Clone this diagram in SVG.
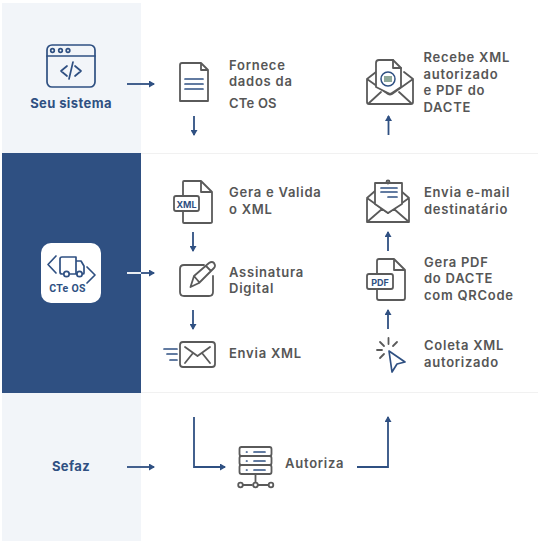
<svg xmlns="http://www.w3.org/2000/svg" width="538" height="541" viewBox="0 0 538 541">
<defs>
<marker id="ah" markerWidth="6" markerHeight="7" refX="5" refY="3.500" orient="auto" markerUnits="userSpaceOnUse"><path d="M0 0L6 3.500L0 7Z" fill="#2f5082"/></marker>
</defs>
<style>
.t{font:600 13px Inter,"Liberation Sans",sans-serif;fill:#565656;letter-spacing:.75px}
.b{font:700 13px Inter,"Liberation Sans",sans-serif;fill:#2f5082;text-anchor:middle;letter-spacing:.4px}
.i{fill:none;stroke:#5a5a5a;stroke-width:1.800;stroke-linejoin:round;stroke-linecap:round}
.w{fill:#fff;stroke:#5a5a5a;stroke-width:1.800;stroke-linejoin:round;stroke-linecap:round}
.n{fill:none;stroke:#2f5082;stroke-width:1.700;stroke-linejoin:round;stroke-linecap:round}
.c{fill:none;stroke:#2f5082;stroke-width:1.800;marker-end:url(#ah)}
</style>
<rect width="538" height="541" fill="#fff"/>
<g id="bands">
<rect x="2" y="3" width="139" height="150" fill="#f2f5f9"/>
<rect x="2" y="153" width="139" height="240" fill="#2f5082"/>
<rect x="2" y="393" width="139" height="148" fill="#f2f5f9"/>
<path d="M141 153.500H538M141 392.500H538" stroke="#f1f1f1" fill="none"/>
</g>
<g id="connectors">
<path class="c" d="M127 84H154"/>
<path class="c" d="M194 116V135"/>
<path class="c" d="M388.500 135V116"/>
<path class="c" d="M193 232V251"/>
<path class="c" d="M193 310V329"/>
<path class="c" d="M388 251V232"/>
<path class="c" d="M388 329V310"/>
<path d="M127 273H141" fill="none" stroke="#fff" stroke-width="1.800"/>
<path class="c" d="M141 273H154"/>
<path class="c" d="M127 467H154"/>
<path class="c" d="M194 417V467H225"/>
<path class="c" d="M357 467H388V417"/>
</g>
<g id="seu-sistema">
<rect class="n" x="47" y="45" width="48" height="42" rx="5"/>
<path class="n" d="M47 56H95M67 66L61 71L67 76M75 66L81 71L75 76M73 62L69 79"/>
<circle class="n" cx="52.500" cy="50.500" r="1.800"/><circle class="n" cx="60.500" cy="50.500" r="1.800"/><circle class="n" cx="68" cy="50.500" r="1.800"/>
<text class="b" x="71" y="107.500">Seu sistema</text>
</g>
<g id="fornece">
<path class="i" d="M182 63H201L208 70V101H180V65Q180 63 182 63ZM201 63V70H208"/>
<path class="n" d="M185 79H203M185 84H203M185 89H203" stroke-width="2"/>
<text class="t" x="229" y="69.500">Fornece</text>
<text class="t" x="229" y="86">dados da</text>
<text class="t" x="229" y="107.500" style="letter-spacing:.2px">CTe OS</text>
</g>
<g id="recebe">
<path class="i" d="M367 79L376 72M413 79L404 72M367 79V102Q367 104 369 104H411Q413 104 413 102V79L392 94Q390 95 388 94L367 79ZM369 103L381 92M411 103L399 92"/>
<path class="w" d="M376 87V63Q376 60 379 60H393L401 68V87L392 93Q390 94.500 388 93Z"/>
<path class="i" d="M393 60V68H401"/>
<circle cx="388" cy="79" r="7" fill="#fff" stroke="#2f5082" stroke-width="1.500"/>
<rect x="384" y="76" width="8" height="6" fill="#8fa89a"/>
<text class="t" x="423.500" y="62">Recebe XML</text>
<text class="t" x="423.500" y="79">autorizado</text>
<text class="t" x="423.500" y="95">e PDF do</text>
<text class="t" x="423.500" y="112">DACTE</text>
</g>
<g id="cte-os">
<rect x="41" y="243" width="60" height="60" rx="10" fill="#fff"/>
<path class="n" d="M56 256L48 264.500L56 273M87 267L95 275L87 283" stroke-width="2.200"/>
<path class="n" d="M63 274H62Q60 274 60 272V259Q60 257 62 257H76V274H70M76 261H81L84 266V273Q84 274 83 274M76 274H77"/>
<circle class="n" cx="66.500" cy="274" r="2.700"/><circle class="n" cx="79.500" cy="274" r="2.700"/>
<text x="67.500" y="292" text-anchor="middle" style="font:700 10.500px Roboto,'Liberation Sans',sans-serif;fill:#2f5082;letter-spacing:.3px">CTe OS</text>
</g>
<g id="gera-valida">
<path class="i" d="M184 181H201L212 192V222Q212 223 210 223H184Q183 223 183 222V182Q183 181 184 181ZM201 181V192H212"/>
<rect class="w" x="174" y="196" width="25" height="15" rx="2"/>
<text x="186.500" y="207.500" text-anchor="middle" style="font:700 9px Inter,'Liberation Sans',sans-serif;fill:#2f5082">XML</text>
<text class="t" x="229" y="197">Gera e Valida</text>
<text class="t" x="229" y="214">o XML</text>
</g>
<g id="assinatura">
<path class="i" d="M204 265H184Q180 265 180 269V292Q180 296 184 296H209Q213 296 213 292V276"/>
<path class="i" d="M190.500 287L194 276L209 263Q212 261 214 263Q216 266 214 268L199 283ZM194 276L199 282M206 266L211 271"/>
<text class="t" x="229" y="277">Assinatura</text>
<text class="t" x="229" y="293">Digital</text>
</g>
<g id="envia-xml">
<rect class="i" x="180" y="342" width="35" height="25" rx="3"/>
<path class="i" d="M185 347L197.500 356L210 347M185 363L193 353M210 363L202 353"/>
<path class="n" d="M164 349H177M167 354H177M170 360H177"/>
<text class="t" x="229" y="358">Envia XML</text>
</g>
<g id="envia-email">
<path class="i" d="M375 191L367 198V222H409V198L401 191M367 198L388 213L409 198M367 222L382 209M409 222L394 209"/>
<path class="w" d="M375 204V183H402V204L388 213Z"/>
<path class="n" d="M381 188H397M381 192H397M388 197H397"/>
<circle class="i" cx="388" cy="182" r="1.500"/>
<text class="t" x="424" y="197">Envia e-mail</text>
<text class="t" x="424" y="214">destinatário</text>
</g>
<g id="gera-pdf">
<path class="i" d="M379 259H394L405 270V298Q405 300 403 300H379Q377 300 377 298V261Q377 259 379 259ZM394 259V270H405"/>
<rect class="w" x="367" y="274" width="26" height="15" rx="2"/>
<text x="380" y="285.500" text-anchor="middle" style="font:700 9px Inter,'Liberation Sans',sans-serif;fill:#2f5082">PDF</text>
<text class="t" x="424" y="267">Gera PDF</text>
<text class="t" x="424" y="283">do DACTE</text>
<text class="t" x="424" y="300">com QRCode</text>
</g>
<g id="coleta">
<path class="i" d="M388.500 338V344M377 350H382M380 342L384 346M397 342L393 346M380 358L384 354" stroke-width="1.300"/>
<path class="n" d="M389 351L405 362L397 364L392 372Z" stroke-width="1.800"/>
<text class="t" x="424" y="350">Coleta XML</text>
<text class="t" x="424" y="367">autorizado</text>
</g>
<g id="autoriza">
<rect class="i" x="239.500" y="447" width="32" height="9" rx="2"/>
<rect class="i" x="239.500" y="456" width="32" height="9" rx="2"/>
<rect class="i" x="239.500" y="465" width="32" height="9" rx="2"/>
<path class="n" d="M254 452H265M254 461H265M254 470H265M246.500 452H247M246.500 461H247M246.500 470H247"/>
<path class="i" d="M243 485H252M258 485H268M255.500 474V482" stroke-width="1.300"/>
<circle class="i" cx="240.500" cy="485" r="2.300" stroke-width="1.300"/><circle class="i" cx="255.500" cy="485" r="2.300" stroke-width="1.300"/><circle class="i" cx="271" cy="485" r="2.300" stroke-width="1.300"/>
<text class="t" x="285" y="468">Autoriza</text>
</g>
<g id="sefaz"><text class="b" x="71" y="471">Sefaz</text></g>
</svg>
